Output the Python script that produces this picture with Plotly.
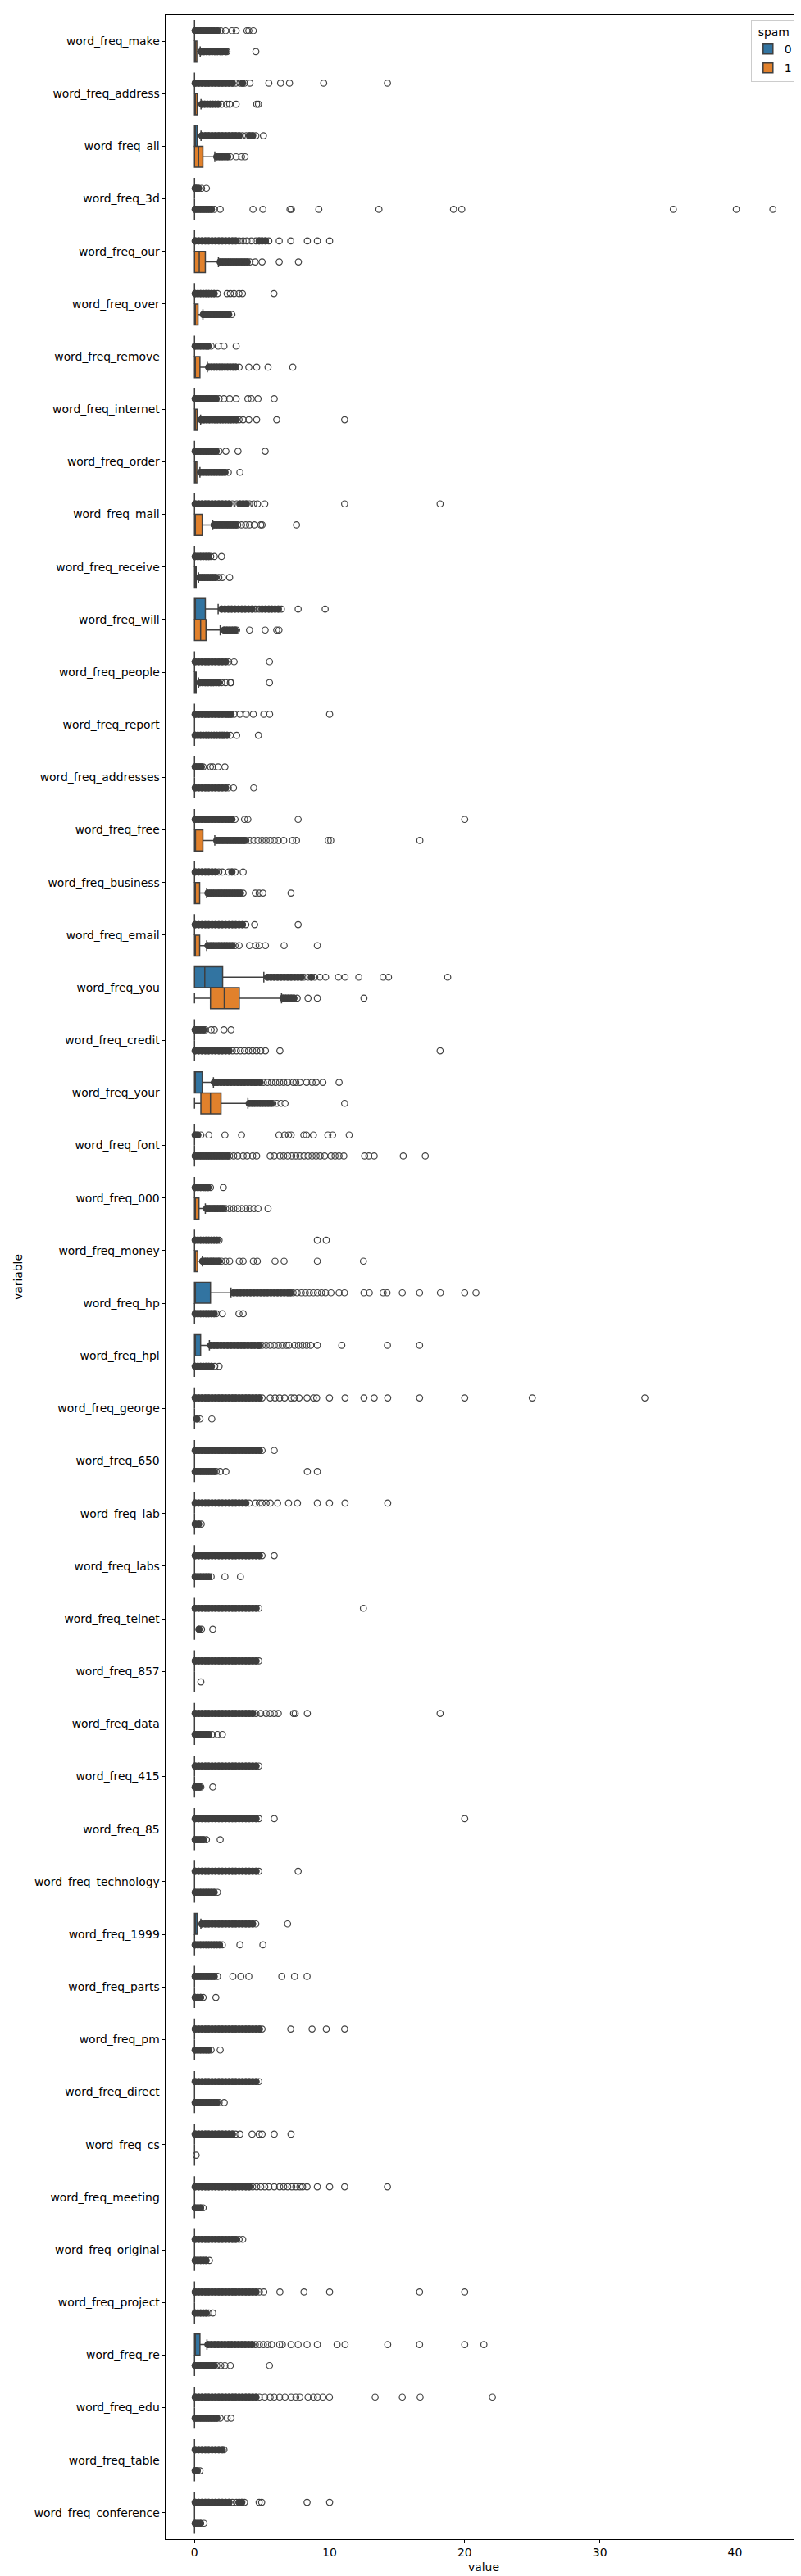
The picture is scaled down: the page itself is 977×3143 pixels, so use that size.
import plotly.graph_objects as go

variables = [
    "word_freq_make", "word_freq_address", "word_freq_all", "word_freq_3d", "word_freq_our",
    "word_freq_over", "word_freq_remove", "word_freq_internet", "word_freq_order", "word_freq_mail",
    "word_freq_receive", "word_freq_will", "word_freq_people", "word_freq_report", "word_freq_addresses",
    "word_freq_free", "word_freq_business", "word_freq_email", "word_freq_you", "word_freq_credit",
    "word_freq_your", "word_freq_font", "word_freq_000", "word_freq_money", "word_freq_hp",
    "word_freq_hpl", "word_freq_george", "word_freq_650", "word_freq_lab", "word_freq_labs",
    "word_freq_telnet", "word_freq_857", "word_freq_data", "word_freq_415", "word_freq_85",
    "word_freq_technology", "word_freq_1999", "word_freq_parts", "word_freq_pm", "word_freq_direct",
    "word_freq_cs", "word_freq_meeting", "word_freq_original", "word_freq_project", "word_freq_re",
    "word_freq_edu", "word_freq_table", "word_freq_conference",
]

# ---- box statistics, spam = 0 ----
ham_q1 = [0] * 48
ham_med = [0, 0, 0, 0, 0, 0, 0, 0, 0, 0, 0, 0, 0, 0, 0, 0, 0, 0, 0.76, 0, 0, 0, 0, 0,
           0, 0, 0, 0, 0, 0, 0, 0, 0, 0, 0, 0, 0, 0, 0, 0, 0, 0, 0, 0, 0, 0, 0, 0]
ham_q3 = [0, 0, 0.2, 0, 0, 0, 0, 0, 0, 0, 0, 0.8, 0, 0, 0, 0, 0, 0, 2.08, 0, 0.57, 0, 0, 0,
          1.18, 0.45, 0, 0, 0, 0, 0, 0, 0, 0, 0, 0, 0.19, 0, 0, 0, 0, 0, 0, 0, 0.4, 0, 0, 0]
ham_lo = [0] * 48
ham_hi = [0, 0, 0.48, 0, 0, 0, 0, 0, 0, 0, 0, 1.75, 0, 0, 0, 0, 0, 0, 5.13, 0, 1.4, 0, 0, 0,
          2.7, 1.1, 0, 0, 0, 0, 0, 0, 0, 0, 0, 0, 0.47, 0, 0, 0, 0, 0, 0, 0, 0.92, 0, 0, 0]

# ---- box statistics, spam = 1 ----
spam_q1 = [0, 0, 0, 0, 0, 0, 0, 0, 0, 0, 0, 0, 0, 0, 0, 0, 0, 0, 1.18, 0, 0.47, 0, 0, 0,
           0, 0, 0, 0, 0, 0, 0, 0, 0, 0, 0, 0, 0, 0, 0, 0, 0, 0, 0, 0, 0, 0, 0, 0]
spam_med = [0, 0, 0.3, 0, 0.35, 0, 0, 0, 0, 0, 0, 0.45, 0, 0, 0, 0.07, 0, 0, 2.2, 0, 1.18, 0, 0, 0,
            0, 0, 0, 0, 0, 0, 0, 0, 0, 0, 0, 0, 0, 0, 0, 0, 0, 0, 0, 0, 0, 0, 0, 0]
spam_q3 = [0.17, 0.2, 0.62, 0, 0.8, 0.26, 0.4, 0.19, 0.17, 0.57, 0.12, 0.85, 0.12, 0, 0, 0.62,
           0.38, 0.38, 3.31, 0, 1.96, 0, 0.33, 0.24,
           0, 0, 0, 0, 0, 0, 0, 0, 0, 0, 0, 0, 0, 0, 0, 0, 0, 0, 0, 0, 0, 0, 0, 0]
spam_lo = [0] * 48
spam_hi = [0.42, 0.48, 1.5, 0, 1.77, 0.62, 0.95, 0.45, 0.4, 1.35, 0.3, 1.9, 0.3, 0, 0, 1.5,
           0.9, 0.9, 6.44, 0, 3.95, 0, 0.8, 0.58,
           0, 0, 0, 0, 0, 0, 0, 0, 0, 0, 0, 0, 0, 0, 0, 0, 0, 0, 0, 0, 0, 0, 0, 0]

# ---- outliers (fliers), spam = 0 ----
ham_fliers = [
    [0.05, 0.25, 0.45, 0.65, 0.85, 1.05, 1.25, 1.45, 1.7, 1.94, 2.3, 2.77, 3.08, 3.88, 4.02, 4.35],
    [0.05, 0.3, 0.55, 0.8, 1.05, 1.3, 1.55, 1.8, 2.05, 2.3, 2.55, 2.8, 3.05, 3.36, 3.55, 3.7, 4.1,
     5.5, 6.37, 7.03, 9.56, 14.28],
    [0.55, 0.8, 1.05, 1.3, 1.55, 1.8, 2.05, 2.3, 2.55, 2.8, 3.05, 3.3, 3.55, 3.83, 4.07, 4.3, 4.54, 5.1],
    [0.05, 0.15, 0.3, 0.52, 0.88],
    [0.05, 0.3, 0.55, 0.8, 1.05, 1.3, 1.55, 1.8, 2.05, 2.3, 2.55, 2.8, 3.05, 3.3, 3.6, 3.88, 4.2,
     4.54, 4.78, 5.0, 5.25, 5.5, 6.27, 7.12, 8.35, 9.09, 10.0],
    [0.05, 0.25, 0.45, 0.65, 0.85, 1.05, 1.25, 1.45, 1.7, 2.41, 2.65, 2.93, 3.29, 3.55, 5.88],
    [0.05, 0.25, 0.45, 0.65, 0.85, 1.0, 1.23, 1.75, 2.18, 3.08],
    [0.05, 0.25, 0.45, 0.65, 0.85, 1.05, 1.25, 1.45, 1.6, 1.82, 2.18, 2.6, 3.08, 3.95, 4.2, 4.7, 5.9],
    [0.05, 0.25, 0.45, 0.65, 0.85, 1.05, 1.25, 1.45, 1.6, 1.82, 2.32, 3.22, 5.23],
    [0.05, 0.3, 0.55, 0.8, 1.05, 1.3, 1.55, 1.8, 2.05, 2.3, 2.55, 2.8, 3.12, 3.36, 3.6, 3.83, 4.07,
     4.38, 4.66, 5.2, 11.11, 18.18],
    [0.05, 0.25, 0.45, 0.65, 0.85, 1.05, 1.2, 1.47, 2.0],
    [2.0, 2.25, 2.5, 2.75, 3.0, 3.25, 3.5, 3.75, 4.0, 4.25, 4.5, 4.78, 5.0, 5.25, 5.5, 5.72, 5.96,
     6.2, 6.43, 7.67, 9.67],
    [0.05, 0.3, 0.55, 0.8, 1.05, 1.3, 1.55, 1.8, 2.05, 2.3, 2.53, 2.93, 5.55],
    [0.05, 0.3, 0.55, 0.8, 1.05, 1.3, 1.55, 1.8, 2.05, 2.3, 2.5, 2.7, 2.93, 3.36, 3.83, 4.35, 5.13,
     5.56, 10.0],
    [0.05, 0.2, 0.35, 0.5, 0.64, 1.18, 1.35, 1.75, 2.25],
    [0.05, 0.3, 0.55, 0.8, 1.05, 1.3, 1.55, 1.8, 2.05, 2.3, 2.53, 2.77, 3.0, 3.7, 3.95, 7.67, 20.0],
    [0.05, 0.3, 0.55, 0.8, 1.05, 1.3, 1.55, 1.8, 2.06, 2.53, 2.77, 3.0, 3.6],
    [0.05, 0.3, 0.55, 0.8, 1.05, 1.3, 1.55, 1.8, 2.05, 2.3, 2.55, 2.8, 3.05, 3.3, 3.55, 3.8, 4.45, 7.67],
    [5.4, 5.65, 5.9, 6.15, 6.4, 6.65, 6.9, 7.15, 7.4, 7.65, 7.9, 8.1, 8.4, 8.65, 8.9, 9.28, 9.7,
     10.65, 11.14, 12.16, 13.96, 14.36, 18.74],
    [0.05, 0.25, 0.45, 0.65, 0.8, 1.23, 1.47, 2.18, 2.7],
    [1.47, 1.7, 1.95, 2.2, 2.45, 2.7, 2.95, 3.2, 3.45, 3.7, 3.95, 4.2, 4.45, 4.6, 4.85, 5.1, 5.4,
     5.7, 6.0, 6.3, 6.6, 6.9, 7.3, 7.5, 7.8, 8.3, 8.7, 9.0, 9.5, 10.7],
    [0.05, 0.24, 0.47, 1.06, 2.25, 3.48, 6.25, 6.67, 6.96, 7.15, 8.09, 8.28, 8.8, 9.87, 10.22, 11.45],
    [0.05, 0.25, 0.45, 0.65, 0.8, 1.0, 1.18, 2.13],
    [0.05, 0.25, 0.45, 0.65, 0.85, 1.05, 1.25, 1.45, 1.65, 1.82, 9.09, 9.75],
    [2.9, 3.15, 3.4, 3.65, 3.9, 4.15, 4.4, 4.65, 4.9, 5.15, 5.4, 5.65, 5.9, 6.15, 6.4, 6.65, 6.9,
     7.1, 7.3, 7.6, 7.9, 8.2, 8.5, 8.8, 9.1, 9.4, 9.7, 10.1, 10.7, 11.1, 12.54, 12.94, 13.96,
     14.25, 15.38, 16.66, 18.2, 20.0, 20.83],
    [1.2, 1.45, 1.7, 1.95, 2.2, 2.45, 2.7, 2.95, 3.2, 3.45, 3.7, 3.95, 4.2, 4.45, 4.7, 4.8, 5.0,
     5.3, 5.6, 5.9, 6.2, 6.5, 6.8, 7.0, 7.4, 7.7, 8.0, 8.3, 8.6, 9.09, 10.9, 14.28, 16.66],
    [0.05, 0.3, 0.55, 0.8, 1.05, 1.3, 1.55, 1.8, 2.05, 2.3, 2.55, 2.8, 3.05, 3.3, 3.55, 3.8, 4.05,
     4.3, 4.55, 4.8, 5.0, 5.6, 5.96, 6.3, 6.67, 7.15, 7.38, 7.74, 8.33, 8.8, 9.04, 9.99, 11.14,
     12.54, 13.3, 14.3, 16.66, 20.0, 25.0, 33.33],
    [0.05, 0.3, 0.55, 0.8, 1.05, 1.3, 1.55, 1.8, 2.05, 2.3, 2.55, 2.8, 3.05, 3.3, 3.55, 3.8, 4.05,
     4.3, 4.55, 4.8, 5.0, 5.9],
    [0.05, 0.3, 0.55, 0.8, 1.05, 1.3, 1.55, 1.8, 2.05, 2.3, 2.55, 2.8, 3.05, 3.3, 3.55, 3.8, 4.05,
     4.5, 4.8, 5.0, 5.3, 5.6, 6.15, 6.96, 7.62, 9.09, 9.99, 11.14, 14.3],
    [0.05, 0.3, 0.55, 0.8, 1.05, 1.3, 1.55, 1.8, 2.05, 2.3, 2.55, 2.8, 3.05, 3.3, 3.55, 3.8, 4.05,
     4.3, 4.55, 4.8, 5.0, 5.9],
    [0.05, 0.3, 0.55, 0.8, 1.05, 1.3, 1.55, 1.8, 2.05, 2.3, 2.55, 2.8, 3.05, 3.3, 3.55, 3.8, 4.05,
     4.3, 4.55, 4.76, 12.5],
    [0.05, 0.3, 0.55, 0.8, 1.05, 1.3, 1.55, 1.8, 2.05, 2.3, 2.55, 2.8, 3.05, 3.3, 3.55, 3.8, 4.05,
     4.3, 4.55, 4.76],
    [0.05, 0.3, 0.55, 0.8, 1.05, 1.3, 1.55, 1.8, 2.05, 2.3, 2.55, 2.8, 3.05, 3.3, 3.55, 3.8, 4.05,
     4.3, 4.55, 4.9, 5.3, 5.6, 5.9, 6.2, 7.33, 7.45, 8.35, 18.18],
    [0.05, 0.3, 0.55, 0.8, 1.05, 1.3, 1.55, 1.8, 2.05, 2.3, 2.55, 2.8, 3.05, 3.3, 3.55, 3.8, 4.05,
     4.3, 4.55, 4.76],
    [0.05, 0.3, 0.55, 0.8, 1.05, 1.3, 1.55, 1.8, 2.05, 2.3, 2.55, 2.8, 3.05, 3.3, 3.55, 3.8, 4.05,
     4.3, 4.55, 4.76, 5.9, 20.0],
    [0.05, 0.3, 0.55, 0.8, 1.05, 1.3, 1.55, 1.8, 2.05, 2.3, 2.55, 2.8, 3.05, 3.3, 3.55, 3.8, 4.05,
     4.3, 4.55, 4.76, 7.67],
    [0.55, 0.8, 1.05, 1.3, 1.55, 1.8, 2.05, 2.3, 2.55, 2.8, 3.05, 3.3, 3.55, 3.8, 4.05, 4.3, 4.54, 6.89],
    [0.05, 0.25, 0.45, 0.65, 0.85, 1.05, 1.25, 1.45, 1.7, 2.84, 3.43, 4.02, 6.46, 7.4, 8.33],
    [0.05, 0.3, 0.55, 0.8, 1.05, 1.3, 1.55, 1.8, 2.05, 2.3, 2.55, 2.8, 3.05, 3.3, 3.55, 3.8, 4.05,
     4.3, 4.55, 4.8, 5.0, 7.12, 8.7, 9.75, 11.11],
    [0.05, 0.3, 0.55, 0.8, 1.05, 1.3, 1.55, 1.8, 2.05, 2.3, 2.55, 2.8, 3.05, 3.3, 3.55, 3.8, 4.05,
     4.3, 4.55, 4.76],
    [0.05, 0.3, 0.55, 0.8, 1.05, 1.3, 1.55, 1.8, 2.05, 2.3, 2.55, 2.8, 3.05, 3.36, 4.26, 4.78, 5.0,
     5.9, 7.14],
    [0.05, 0.3, 0.55, 0.8, 1.05, 1.3, 1.55, 1.8, 2.05, 2.3, 2.55, 2.8, 3.05, 3.3, 3.55, 3.8, 4.05,
     4.3, 4.6, 4.9, 5.2, 5.5, 5.9, 6.3, 6.6, 6.9, 7.2, 7.5, 7.8, 8.0, 8.33, 9.09, 10.0, 11.11, 14.28],
    [0.05, 0.3, 0.55, 0.8, 1.05, 1.3, 1.55, 1.8, 2.05, 2.3, 2.55, 2.8, 3.05, 3.3, 3.57],
    [0.05, 0.3, 0.55, 0.8, 1.05, 1.3, 1.55, 1.8, 2.05, 2.3, 2.55, 2.8, 3.05, 3.3, 3.55, 3.8, 4.05,
     4.3, 4.55, 4.8, 5.13, 6.32, 8.1, 10.0, 16.66, 20.0],
    [1.0, 1.25, 1.5, 1.75, 2.0, 2.25, 2.5, 2.75, 3.0, 3.25, 3.5, 3.75, 4.0, 4.25, 4.5, 4.8, 5.1,
     5.4, 5.7, 6.3, 6.5, 7.14, 7.67, 8.33, 9.09, 10.55, 11.14, 14.3, 16.66, 20.0, 21.42],
    [0.05, 0.3, 0.55, 0.8, 1.05, 1.3, 1.55, 1.8, 2.05, 2.3, 2.55, 2.8, 3.05, 3.3, 3.55, 3.8, 4.05,
     4.3, 4.55, 4.8, 5.2, 5.6, 5.9, 6.3, 6.7, 7.15, 7.5, 7.8, 8.4, 8.8, 9.1, 9.5, 9.99, 13.37,
     15.38, 16.7, 22.05],
    [0.05, 0.3, 0.55, 0.8, 1.05, 1.3, 1.55, 1.8, 2.05, 2.18],
    [0.05, 0.3, 0.55, 0.8, 1.05, 1.3, 1.55, 1.8, 2.05, 2.3, 2.55, 2.8, 3.1, 3.3, 3.5, 3.7, 4.78,
     4.97, 8.33, 10.0],
]

# ---- outliers (fliers), spam = 1 ----
spam_fliers = [
    [0.5, 0.7, 0.9, 1.1, 1.3, 1.5, 1.7, 1.9, 2.05, 2.3, 2.4, 4.54],
    [0.55, 0.75, 0.95, 1.15, 1.35, 1.55, 1.75, 2.0, 2.37, 2.6, 3.08, 4.6, 4.73],
    [1.65, 1.85, 2.05, 2.25, 2.45, 2.65, 3.08, 3.48, 3.74],
    [0.05, 0.25, 0.45, 0.65, 0.85, 1.05, 1.25, 1.47, 1.9, 4.33, 5.06, 7.07, 7.17, 9.2, 13.65,
     19.17, 19.78, 35.44, 40.1, 42.81],
    [1.9, 2.1, 2.3, 2.5, 2.7, 2.9, 3.1, 3.3, 3.5, 3.7, 3.9, 4.1, 4.5, 5.0, 6.27, 7.69],
    [0.65, 0.85, 1.05, 1.25, 1.45, 1.65, 1.85, 2.05, 2.25, 2.4, 2.53, 2.77],
    [1.05, 1.25, 1.45, 1.65, 1.85, 2.05, 2.25, 2.45, 2.65, 2.85, 3.05, 3.3, 4.02, 4.6, 5.44, 7.27],
    [0.5, 0.7, 0.9, 1.1, 1.3, 1.5, 1.7, 1.9, 2.1, 2.3, 2.5, 2.7, 2.9, 3.1, 3.3, 3.6, 4.02, 4.6,
     6.08, 11.11],
    [0.45, 0.65, 0.85, 1.05, 1.25, 1.45, 1.65, 1.85, 2.05, 2.25, 2.5, 3.36],
    [1.45, 1.65, 1.85, 2.05, 2.25, 2.45, 2.65, 2.85, 3.05, 3.2, 3.48, 3.79, 4.07, 4.42, 4.9, 5.0, 7.55],
    [0.35, 0.55, 0.75, 0.95, 1.15, 1.35, 1.55, 1.8, 2.06, 2.6],
    [2.2, 2.4, 2.6, 2.8, 3.0, 3.12, 4.07, 5.23, 6.08, 6.25],
    [0.4, 0.6, 0.8, 1.0, 1.2, 1.4, 1.6, 1.8, 2.0, 2.3, 2.65, 2.7, 5.55],
    [0.05, 0.25, 0.45, 0.65, 0.85, 1.05, 1.25, 1.45, 1.65, 1.85, 2.05, 2.2, 2.41, 2.65, 3.12, 4.73],
    [0.05, 0.3, 0.55, 0.8, 1.05, 1.3, 1.55, 1.8, 2.05, 2.3, 2.5, 2.89, 4.38],
    [1.65, 1.85, 2.05, 2.25, 2.45, 2.65, 2.85, 3.05, 3.25, 3.45, 3.65, 3.8, 4.1, 4.4, 4.7, 5.0,
     5.3, 5.6, 5.9, 6.2, 6.6, 7.26, 7.55, 9.9, 10.08, 16.68],
    [1.0, 1.2, 1.4, 1.6, 1.8, 2.0, 2.2, 2.4, 2.6, 2.8, 3.0, 3.2, 3.4, 3.6, 4.5, 4.78, 5.06, 7.14],
    [1.0, 1.2, 1.4, 1.6, 1.8, 2.0, 2.2, 2.4, 2.6, 2.8, 3.0, 3.3, 4.07, 4.54, 4.78, 5.25, 6.63, 9.09],
    [6.55, 6.75, 6.95, 7.15, 7.35, 7.6, 8.4, 9.09, 12.54],
    [0.05, 0.3, 0.55, 0.8, 1.05, 1.3, 1.55, 1.8, 2.05, 2.3, 2.55, 2.8, 3.1, 3.4, 3.7, 4.0, 4.3,
     4.6, 4.9, 5.25, 6.32, 18.18],
    [4.05, 4.25, 4.45, 4.65, 4.85, 5.05, 5.25, 5.45, 5.65, 5.8, 6.1, 6.4, 6.7, 11.11],
    [0.05, 0.25, 0.45, 0.65, 0.85, 1.05, 1.25, 1.45, 1.65, 1.85, 2.05, 2.25, 2.45, 2.6, 2.9, 3.2,
     3.6, 3.9, 4.3, 4.6, 5.6, 5.9, 6.32, 6.6, 6.9, 7.2, 7.5, 7.8, 8.1, 8.4, 8.7, 9.0, 9.3, 9.63,
     10.1, 10.4, 10.7, 11.05, 12.59, 12.9, 13.3, 15.45, 17.08],
    [0.9, 1.1, 1.3, 1.5, 1.7, 1.9, 2.1, 2.3, 2.6, 2.9, 3.2, 3.5, 3.8, 4.1, 4.4, 4.7, 5.44],
    [0.6, 0.8, 1.0, 1.2, 1.4, 1.6, 1.8, 2.0, 2.3, 2.6, 3.31, 3.6, 4.35, 4.65, 5.96, 6.63, 9.09, 12.5],
    [0.05, 0.25, 0.45, 0.65, 0.85, 1.05, 1.25, 1.45, 1.6, 2.06, 3.29, 3.6],
    [0.05, 0.25, 0.45, 0.65, 0.85, 1.05, 1.25, 1.5, 1.82],
    [0.17, 0.4, 1.28],
    [0.05, 0.25, 0.45, 0.65, 0.85, 1.05, 1.25, 1.45, 1.6, 1.9, 2.32, 8.35, 9.09],
    [0.05, 0.3, 0.5],
    [0.05, 0.25, 0.45, 0.65, 0.85, 1.05, 1.23, 2.25, 3.4],
    [0.33, 0.52, 1.35],
    [0.47],
    [0.05, 0.25, 0.45, 0.65, 0.85, 1.05, 1.3, 1.7, 2.06],
    [0.05, 0.2, 0.35, 0.47, 1.35],
    [0.05, 0.25, 0.45, 0.65, 0.88, 1.9],
    [0.05, 0.25, 0.45, 0.65, 0.85, 1.05, 1.25, 1.45, 1.7],
    [0.05, 0.25, 0.45, 0.65, 0.85, 1.05, 1.25, 1.45, 1.65, 1.85, 2.06, 3.36, 5.06],
    [0.05, 0.25, 0.45, 0.64, 1.58],
    [0.05, 0.25, 0.45, 0.65, 0.85, 1.05, 1.23, 1.9],
    [0.05, 0.25, 0.45, 0.65, 0.85, 1.05, 1.25, 1.45, 1.65, 1.82, 2.2],
    [0.12],
    [0.05, 0.25, 0.45, 0.64],
    [0.05, 0.25, 0.45, 0.65, 0.85, 1.1],
    [0.05, 0.25, 0.45, 0.65, 0.85, 1.05, 1.35],
    [0.05, 0.25, 0.45, 0.65, 0.85, 1.05, 1.25, 1.45, 1.65, 1.94, 2.25, 2.65, 5.55],
    [0.05, 0.25, 0.45, 0.65, 0.85, 1.05, 1.25, 1.45, 1.65, 1.9, 2.41, 2.7],
    [0.05, 0.2, 0.4],
    [0.05, 0.25, 0.45, 0.7],
]

hue_labels = ["0", "1"]
hue_colors = ["#3274a1", "#e1812c"]
GRAY = "#3f3f3f"
FONT = "DejaVu Sans"
FS = 13.9
BOX_W = 0.4
OFFSETS = [-0.2, 0.2]
CLOSE = 0.255  # neighbouring fliers this close overlap into a solid run

stats = [
    (ham_q1, ham_med, ham_q3, ham_lo, ham_hi, ham_fliers),
    (spam_q1, spam_med, spam_q3, spam_lo, spam_hi, spam_fliers),
]

fig = go.Figure()

for h, (q1, med, q3, lo, hi, fl) in enumerate(stats):
    pos = [i + OFFSETS[h] for i in range(len(variables))]
    fig.add_trace(go.Box(
        y=pos, q1=q1, median=med, q3=q3, lowerfence=lo, upperfence=hi,
        orientation="h", name=hue_labels[h], width=BOX_W, whiskerwidth=0.5,
        fillcolor=hue_colors[h], line=dict(color=GRAY, width=1.5),
        boxpoints=False, hoverinfo="skip", legendgroup=hue_labels[h],
    ))

for h, (q1, med, q3, lo, hi, fl) in enumerate(stats):
    xs, ys, dx, dy = [], [], [], []
    for i, vals in enumerate(fl):
        yv = i + OFFSETS[h]
        xs.extend(vals)
        ys.extend([yv] * len(vals))
        for k, v in enumerate(vals):
            prev_ok = k == 0 or v - vals[k - 1] <= CLOSE
            next_ok = k < len(vals) - 1 and vals[k + 1] - v <= CLOSE
            if prev_ok and next_ok:
                dx.append(v)
                dy.append(yv)
    # dense overlapping region (appears solid)
    fig.add_trace(go.Scatter(
        x=dx, y=dy, mode="markers", showlegend=False, hoverinfo="skip",
        marker=dict(symbol="circle", size=8.6, color=GRAY, line=dict(width=0)),
    ))
    fig.add_trace(go.Scatter(
        x=xs, y=ys, mode="markers", showlegend=False, hoverinfo="skip",
        marker=dict(symbol="circle-open", size=7.5, color=GRAY, line=dict(width=1.2, color=GRAY)),
    ))

fig.update_layout(
    template="none",
    width=977, height=3143,
    margin=dict(l=194, r=7, t=10, b=53, autoexpand=False),
    paper_bgcolor="white", plot_bgcolor="white",
    font=dict(family=FONT, size=FS, color="black"),
    boxmode="overlay",
    showlegend=True,
    legend=dict(
        title=dict(text="spam", side="top center", font=dict(family=FONT, size=FS, color="black")),
        x=0.992, xanchor="right", y=0.9977, yanchor="top",
        bgcolor="rgba(255,255,255,0.8)", bordercolor="#cccccc", borderwidth=1,
        font=dict(family=FONT, size=FS, color="black"),
        itemwidth=30, tracegroupgap=2,
    ),
    xaxis=dict(
        range=[-2.14, 44.95], tickvals=[0, 10, 20, 30, 40], ticktext=["0", "10", "20", "30", "40"],
        ticks="outside", ticklen=3.5, tickwidth=1, tickcolor="black",
        showline=True, linecolor="black", linewidth=1, mirror=True,
        showgrid=False, zeroline=False, automargin=False,
        title=dict(text="value", standoff=6, font=dict(family=FONT, size=FS, color="black")),
    ),
    yaxis=dict(
        range=[47.5, -0.5], tickvals=list(range(len(variables))), ticktext=variables,
        ticks="outside", ticklen=3.5, tickwidth=1, tickcolor="black",
        showline=True, linecolor="black", linewidth=1, mirror=True,
        showgrid=False, zeroline=False, automargin=False,
        title=dict(text="variable", standoff=10, font=dict(family=FONT, size=FS, color="black")),
    ),
)

fig.write_html("out.html")
